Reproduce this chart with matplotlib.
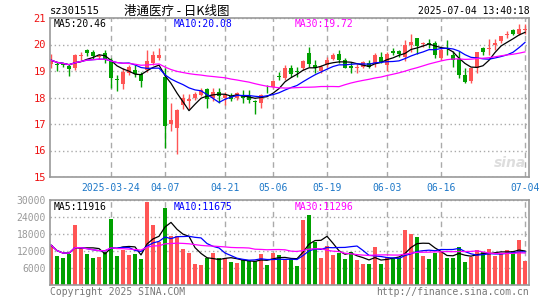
import numpy as np
import pandas as pd
import matplotlib
matplotlib.use('Agg')
import matplotlib.pyplot as plt

# daily bars, 2025-03-10 .. 2025-07-04
dates = ['03-10', '03-11', '03-12', '03-13', '03-14', '03-17', '03-18', '03-19', '03-20', '03-21',
         '03-24', '03-25', '03-26', '03-27', '03-28', '03-31', '04-01', '04-02', '04-03', '04-07',
         '04-08', '04-09', '04-10', '04-11', '04-14', '04-15', '04-16', '04-17', '04-18', '04-21',
         '04-22', '04-23', '04-24', '04-25', '04-28', '04-29', '04-30', '05-06', '05-07', '05-08',
         '05-09', '05-12', '05-13', '05-14', '05-15', '05-16', '05-19', '05-20', '05-21', '05-22',
         '05-23', '05-26', '05-27', '05-28', '05-29', '05-30', '06-03', '06-04', '06-05', '06-06',
         '06-09', '06-10', '06-11', '06-12', '06-13', '06-16', '06-17', '06-18', '06-19', '06-20',
         '06-23', '06-24', '06-25', '06-26', '06-27', '06-30', '07-01', '07-02', '07-03', '07-04']

opens = [19.26, 19.28, 19.25, 19.19, 19.10, 19.58, 19.81, 19.72, 19.54, 19.69,
         19.41, 18.68, 18.50, 18.91, 19.04, 18.88, 19.04, 19.29, 19.48, 18.79,
         17.00, 16.85, 17.70, 17.88, 17.98, 18.10, 18.31, 17.97, 18.20, 17.97,
         18.07, 17.97, 18.10, 18.04, 17.86, 17.79, 18.36, 18.38, 18.80, 18.72,
         19.12, 18.99, 19.10, 19.69, 19.22, 19.00, 19.22, 19.45, 19.66, 19.41,
         19.19, 19.11, 19.16, 19.29, 19.25, 19.54, 19.22, 19.76, 19.76, 19.54,
         19.98, 20.26, 20.03, 20.04, 20.07, 19.50, 19.80, 19.62, 19.44, 18.85,
         18.62, 19.12, 19.85, 19.82, 20.00, 20.12, 20.35, 20.54, 20.41, 20.55]
highs = [19.66, 19.35, 19.30, 19.28, 19.66, 19.72, 19.82, 19.80, 19.65, 19.79,
         19.48, 18.85, 19.10, 19.22, 19.22, 18.98, 19.81, 19.76, 19.85, 19.13,
         17.78, 17.55, 18.15, 18.15, 18.22, 18.37, 18.35, 18.35, 18.37, 18.22,
         18.16, 18.20, 18.29, 18.29, 17.92, 18.12, 18.48, 18.66, 18.97, 19.22,
         19.22, 19.16, 19.41, 19.91, 19.41, 19.22, 19.54, 19.69, 19.79, 19.50,
         19.35, 19.25, 19.38, 19.41, 19.69, 19.72, 19.72, 19.85, 19.79, 20.16,
         20.41, 20.26, 20.10, 20.22, 20.12, 19.91, 20.16, 19.75, 19.75, 19.10,
         19.10, 19.72, 19.91, 20.22, 20.22, 20.32, 20.50, 20.57, 20.79, 20.79]
lows = [19.10, 19.00, 19.15, 18.83, 19.04, 19.40, 19.55, 19.47, 19.45, 19.29,
        18.35, 18.25, 18.31, 18.85, 18.79, 18.39, 18.98, 19.22, 19.41, 16.10,
        16.75, 15.85, 17.55, 17.55, 17.90, 18.06, 17.60, 17.85, 17.80, 17.72,
        17.88, 17.90, 17.80, 17.79, 17.38, 17.60, 18.16, 18.35, 18.66, 18.66,
        18.79, 18.79, 19.04, 19.16, 18.91, 18.91, 19.16, 19.41, 19.29, 19.10,
        18.91, 18.91, 19.10, 19.10, 19.16, 19.29, 19.00, 19.60, 19.54, 19.38,
        19.72, 19.66, 19.91, 19.85, 19.48, 19.41, 19.60, 19.16, 18.72, 18.54,
        18.54, 18.91, 19.60, 19.60, 19.79, 20.04, 20.25, 20.35, 20.35, 20.41]
closes = [19.41, 19.24, 19.22, 19.08, 19.60, 19.62, 19.69, 19.56, 19.58, 19.44,
          18.73, 18.66, 18.98, 19.16, 18.88, 18.63, 19.38, 19.62, 19.60, 16.91,
          17.16, 17.54, 17.98, 17.93, 18.12, 18.29, 17.95, 18.20, 18.07, 18.10,
          17.95, 18.18, 17.97, 17.91, 17.84, 18.10, 18.34, 18.62, 18.78, 19.12,
          18.88, 18.97, 19.38, 19.25, 19.12, 19.16, 19.41, 19.62, 19.41, 19.12,
          19.10, 19.13, 19.35, 19.16, 19.62, 19.35, 19.66, 19.69, 19.64, 19.97,
          20.10, 19.95, 20.05, 20.03, 19.60, 19.79, 19.78, 19.41, 18.85, 18.60,
          19.10, 19.72, 19.72, 19.88, 20.07, 20.32, 20.41, 20.39, 20.60, 20.57]
volumes = [14000, 10100, 9500, 11000, 21100, 12800, 10800, 9500, 9700, 11600,
           23300, 10100, 12200, 10500, 10800, 9000, 29500, 21300, 15200, 27300,
           17200, 17200, 12700, 11300, 7200, 6900, 9500, 11300, 9500, 9300,
           8100, 7700, 8700, 8300, 8300, 10700, 7000, 11300, 10500, 8700,
           8900, 6500, 22900, 24700, 15200, 9300, 13700, 10500, 11300, 9000,
           11600, 8700, 7200, 7200, 13200, 7200, 9900, 9300, 9300, 19400,
           17900, 16800, 10100, 9000, 11300, 11600, 9600, 9600, 13200, 8100,
           9900, 12200, 11600, 12800, 10100, 11300, 12200, 11900, 15800, 8400]

tick_dates = ['2025-03-24', '04-07', '04-21', '05-06', '05-19', '06-03', '06-16', '07-04']
price_ticks = [15, 16, 17, 18, 19, 20, 21]
vol_ticks = [6000, 12000, 18000, 24000, 30000]

RED = '#ff5555'
GREEN = '#00a000'
GRID = '#aaaaaa'
FRAME = '#999999'
MONO = 'DejaVu Sans Mono'

df = pd.DataFrame({'o': opens, 'h': highs, 'l': lows, 'c': closes, 'v': volumes})
x = np.arange(len(df))
up = df['c'] >= df['o']
colors = np.where(up, RED, GREEN)
tick_pos = [dates.index(d[-5:]) for d in tick_dates]

W, H = 545, 300
fig = plt.figure(figsize=(W / 100, H / 100), dpi=100)


def fx(px):
    return px / W


def fy(py):
    return 1 - py / H


ax1 = fig.add_axes([fx(50), fy(177), fx(479), 159 / H])
ax2 = fig.add_axes([fx(50), fy(284.5), fx(479), 84.3 / H])

for ax in (ax1, ax2):
    ax.set_xlim(-0.17, len(df) - 0.33)
    for s in ax.spines.values():
        s.set_color(FRAME)
        s.set_linewidth(1.2)
    ax.set_xticks(tick_pos)
    ax.xaxis.grid(True, linestyle=(0, (4, 3)), color=GRID, linewidth=1)
    ax.yaxis.grid(True, linestyle=(0, (1, 2)), color=GRID, linewidth=1)
    ax.tick_params(length=0)
    ax.set_axisbelow(True)

# candles
body_lo = df[['o', 'c']].min(axis=1)
body_h = (df['c'] - df['o']).abs().clip(lower=0.03)
ax1.vlines(x, df['l'], df['h'], colors=colors, linewidth=1)
ax1.bar(x, body_h, bottom=body_lo, width=0.8, color=colors, linewidth=0)

ma_cols = {5: 'black', 10: '#0000ff', 30: '#ff00ff'}
for n, col in ma_cols.items():
    ax1.plot(x, df['c'].rolling(n, min_periods=1).mean(), color=col, linewidth=0.9)

ax1.set_ylim(15, 21)
ax1.set_yticks(price_ticks)
ax1.set_yticklabels([str(t) for t in price_ticks], color='#ee1111', fontsize=7.5, family=MONO)
ax1.set_xticklabels(tick_dates, color='#1e78c8', fontsize=7, family=MONO)
ax1.tick_params(axis='x', pad=4)
ax1.tick_params(axis='y', pad=3)

# volume
ax2.bar(x, df['v'], width=0.8, color=colors, linewidth=0)
for n, col in ma_cols.items():
    ax2.plot(x, df['v'].rolling(n, min_periods=1).mean(), color=col, linewidth=0.9)
ax2.set_ylim(0, 30000)
ax2.set_yticks(vol_ticks)
ax2.set_yticklabels([str(t) for t in vol_ticks], color='#999999', fontsize=7, family=MONO)
ax2.set_xticklabels([])
ax2.tick_params(axis='y', pad=3)

# legends
for txt, col, px in [('MA5:20.46', 'black', 54), ('MA10:20.08', '#0000ff', 174), ('MA30:19.72', '#ff00ff', 295)]:
    fig.text(fx(px), fy(24), txt, color=col, fontsize=7, family=MONO, va='center')
for txt, col, px in [('MA5:11916', 'black', 54), ('MA10:11675', '#0000ff', 174), ('MA30:11296', '#ff00ff', 295)]:
    fig.text(fx(px), fy(207), txt, color=col, fontsize=7, family=MONO, va='center')

# titles
fig.text(fx(50), fy(11), 'sz301515', fontsize=7.5, family=MONO, va='center')
fig.text(fx(177), fy(11), '港通医疗 - 日K线图', fontsize=9,
         family=['Noto Sans CJK SC', 'DejaVu Sans'], va='center', ha='center')
fig.text(fx(530), fy(11), '2025-07-04 13:40:18', fontsize=7, family=MONO, va='center', ha='right')
fig.text(fx(50), fy(292), 'Copyright 2025 SINA.COM', fontsize=7, family=MONO, va='center', color='#777777')
fig.text(fx(529), fy(292), 'http://finance.sina.com.cn', fontsize=7, family=MONO, va='center', ha='right',
         color='#777777')
fig.text(fx(526), fy(163), 'sina', fontsize=10, style='italic', weight='bold', color='#dddddd',
         ha='right', va='center')

fig.savefig('out.png', dpi=100)
